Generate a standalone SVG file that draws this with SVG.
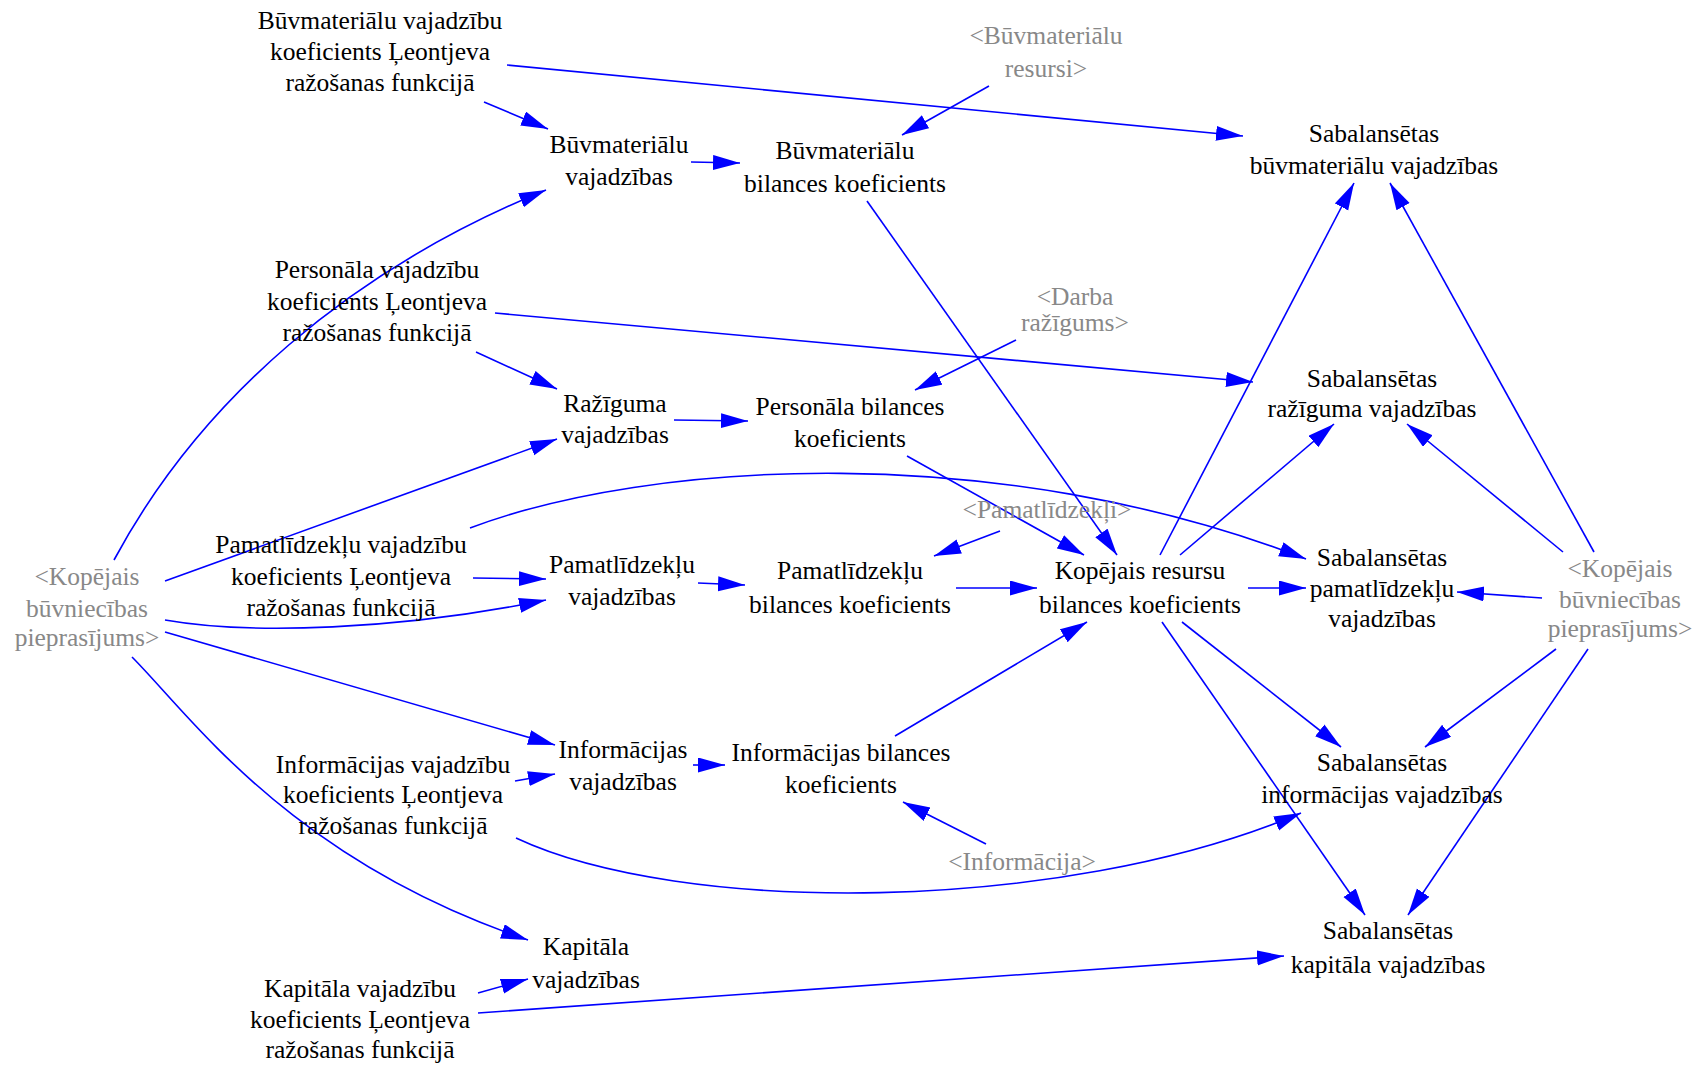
<svg xmlns="http://www.w3.org/2000/svg" width="1702" height="1068" viewBox="0 0 1702 1068">
<style>
text{font-family:"Liberation Serif","Times New Roman",serif;font-size:25.5px;text-anchor:middle;fill:#000}
.g text{fill:#888888}
.e path{fill:none;stroke:#0000ff;stroke-width:1.6;marker-end:url(#ah)}
</style>
<defs>
<marker id="ah" markerUnits="userSpaceOnUse" markerWidth="28" markerHeight="16" refX="27" refY="7.5" orient="auto"><path d="M0,0 L27,7.5 L0,15 z" fill="#0000ff"/></marker>
</defs>
<rect width="1702" height="1068" fill="#fff"/>
<g id="edges" class="e">
<path d="M484,102 L548,129"/>
<path d="M507,65 L1243,136"/>
<path d="M114,560 C200,400 350,270 546,190"/>
<path d="M476,352 L557,389"/>
<path d="M495,313 L1253,382"/>
<path d="M989,86 L902,135"/>
<path d="M691,162 L740,163"/>
<path d="M867,201 L1117,555"/>
<path d="M1016,340 L915,390"/>
<path d="M674,420 L748,421"/>
<path d="M907,456 L1084,555"/>
<path d="M165,581 L557,439"/>
<path d="M470,528 C650,460 1000,440 1306,559"/>
<path d="M1000,531 L934,556"/>
<path d="M473,578 L546,579"/>
<path d="M165,620 C250,635 400,630 546,600"/>
<path d="M698,583 L745,585"/>
<path d="M956,588 L1037,588"/>
<path d="M165,632 L555,745"/>
<path d="M132,657 C190,715 290,860 528,940"/>
<path d="M515,781 L555,774"/>
<path d="M516,838 C680,915 1060,915 1301,813"/>
<path d="M693,765 L725,765"/>
<path d="M986,844 L903,802"/>
<path d="M895,736 L1087,622"/>
<path d="M478,993 L528,979"/>
<path d="M478,1013 L1284,956"/>
<path d="M1160,555 L1354,183"/>
<path d="M1180,555 L1334,424"/>
<path d="M1248,588 L1306,588"/>
<path d="M1182,622 L1341,747"/>
<path d="M1162,622 L1365,915"/>
<path d="M1594,552 L1390,183"/>
<path d="M1563,552 L1407,424"/>
<path d="M1542,598 L1457,592"/>
<path d="M1556,649 L1425,747"/>
<path d="M1588,649 L1408,915"/>
</g>
<g id="n_buvmat_koef"><text x="380" y="29">Būvmateriālu vajadzību</text><text x="380" y="60">koeficients Ļeontjeva</text><text x="380" y="91">ražošanas funkcijā</text></g>
<g id="n_pers_koef"><text x="377" y="278">Personāla vajadzību</text><text x="377" y="310">koeficients Ļeontjeva</text><text x="377" y="341">ražošanas funkcijā</text></g>
<g id="n_buvmat_vaj"><text x="619" y="153">Būvmateriālu</text><text x="619" y="185">vajadzības</text></g>
<g id="n_buvmat_bil"><text x="845" y="159">Būvmateriālu</text><text x="845" y="192">bilances koeficients</text></g>
<g id="n_buvmat_res" class="g"><text x="1046" y="44">&lt;Būvmateriālu</text><text x="1046" y="77">resursi&gt;</text></g>
<g id="n_sab_buvmat"><text x="1374" y="142">Sabalansētas</text><text x="1374" y="174">būvmateriālu vajadzības</text></g>
<g id="n_darba" class="g"><text x="1075" y="305">&lt;Darba</text><text x="1075" y="331">ražīgums&gt;</text></g>
<g id="n_raz_vaj"><text x="615" y="412">Ražīguma</text><text x="615" y="443">vajadzības</text></g>
<g id="n_pers_bil"><text x="850" y="415">Personāla bilances</text><text x="850" y="447">koeficients</text></g>
<g id="n_sab_raz"><text x="1372" y="387">Sabalansētas</text><text x="1372" y="417">ražīguma vajadzības</text></g>
<g id="n_pamat_koef"><text x="341" y="553">Pamatlīdzekļu vajadzību</text><text x="341" y="585">koeficients Ļeontjeva</text><text x="341" y="616">ražošanas funkcijā</text></g>
<g id="n_kop_left" class="g"><text x="87" y="585">&lt;Kopējais</text><text x="87" y="617">būvniecības</text><text x="87" y="646">pieprasījums&gt;</text></g>
<g id="n_pamat_vaj"><text x="622" y="573">Pamatlīdzekļu</text><text x="622" y="605">vajadzības</text></g>
<g id="n_pamatl" class="g"><text x="1047" y="518">&lt;Pamatlīdzekļi&gt;</text></g>
<g id="n_pamat_bil"><text x="850" y="579">Pamatlīdzekļu</text><text x="850" y="613">bilances koeficients</text></g>
<g id="n_kop_bil"><text x="1140" y="579">Kopējais resursu</text><text x="1140" y="613">bilances koeficients</text></g>
<g id="n_sab_pamat"><text x="1382" y="566">Sabalansētas</text><text x="1382" y="597">pamatlīdzekļu</text><text x="1382" y="627">vajadzības</text></g>
<g id="n_kop_right" class="g"><text x="1620" y="577">&lt;Kopējais</text><text x="1620" y="608">būvniecības</text><text x="1620" y="637">pieprasījums&gt;</text></g>
<g id="n_info_koef"><text x="393" y="773">Informācijas vajadzību</text><text x="393" y="803">koeficients Ļeontjeva</text><text x="393" y="834">ražošanas funkcijā</text></g>
<g id="n_info_vaj"><text x="623" y="758">Informācijas</text><text x="623" y="790">vajadzības</text></g>
<g id="n_info_bil"><text x="841" y="761">Informācijas bilances</text><text x="841" y="793">koeficients</text></g>
<g id="n_info" class="g"><text x="1022" y="870">&lt;Informācija&gt;</text></g>
<g id="n_sab_info"><text x="1382" y="771">Sabalansētas</text><text x="1382" y="803">informācijas vajadzības</text></g>
<g id="n_kap_vaj"><text x="586" y="955">Kapitāla</text><text x="586" y="988">vajadzības</text></g>
<g id="n_kap_koef"><text x="360" y="997">Kapitāla vajadzību</text><text x="360" y="1028">koeficients Ļeontjeva</text><text x="360" y="1058">ražošanas funkcijā</text></g>
<g id="n_sab_kap"><text x="1388" y="939">Sabalansētas</text><text x="1388" y="973">kapitāla vajadzības</text></g>
</svg>
